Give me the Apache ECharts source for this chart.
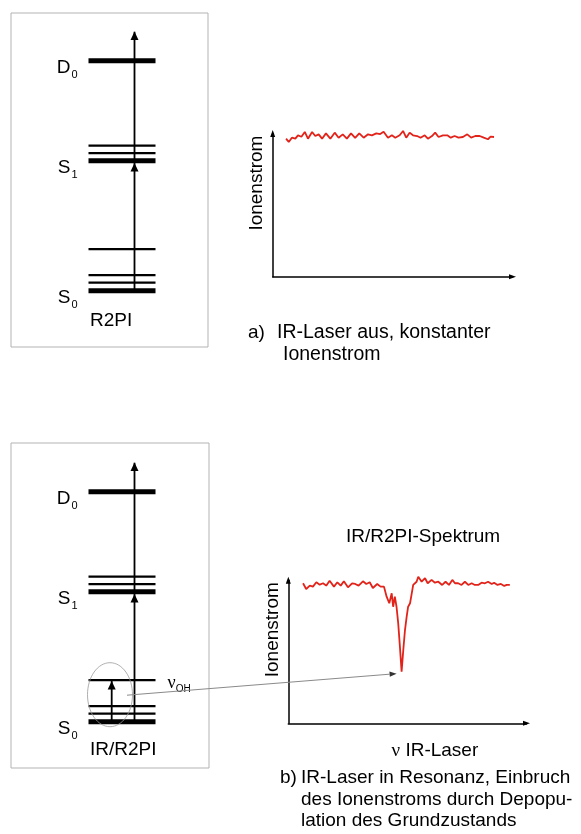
<!DOCTYPE html>
<html>
<head>
<meta charset="utf-8">
<script src="https://cdn.jsdelivr.net/npm/echarts@6/dist/echarts.min.js"></script>
<style>
  html, body { margin: 0; padding: 0; background: #fff; }
  #chart { width: 581px; height: 834px; }
</style>
</head>
<body>
<div id="chart"></div>
<script>
// Termschema (Energie relativ zu S0, v=0), gilt fuer beide Schemata
const s0Levels = [0, 8, 15.5, 41.5];   // letzter Wert = OH-Streckschwingung
const s1Levels = [130, 137.5, 145];
const d0Levels = [230];
const levelSpan = [77.5, 144.5];
const pumpX = 123.5;
const pumpTop = 259;
const irX = 100.7;
const irMark = [99, 27];   // Mittelpunkt der Ellipse um die IR-Anregung

// a) IR-Laser aus
const topX = [5.5, 6.6, 7.9, 9.3, 10.4, 11.8, 13.2, 14.5, 16.2, 17.5, 18.9, 20.3, 21.9, 23.7, 25.5, 27.1, 28.8, 30.5, 32.2, 33.9,
  35.6, 37.4, 39.2, 40.8, 42.6, 44.2, 45.6, 47.4, 49.0, 50.4, 52.2, 53.6, 54.9, 56.3, 57.7, 59.4, 60.8, 62.5, 63.8, 65.5,
  66.8, 68.2, 70.0, 71.8, 73.2, 74.8, 76.4, 78.2, 80.0, 81.6, 83.3, 85.1, 86.8, 88.5, 89.6, 91.0];
const topY = [98.8, 96.4, 99.5, 98.8, 101.2, 100.2, 103.6, 98.8, 103.6, 100.7, 101.9, 98.8, 102.6, 98.8, 103.1, 99.5, 101.9, 98.8, 102.6, 99.3,
  102.6, 99.5, 101.9, 101.2, 102.6, 102.1, 103.8, 99.5, 101.2, 99.5, 101.2, 104.3, 99.5, 103.1, 101.2, 100.7, 99.5, 101.2, 98.8, 100.7,
  103.1, 100.0, 101.2, 101.2, 99.5, 100.7, 99.5, 100.0, 101.9, 99.5, 100.7, 100.7, 99.5, 98.4, 100.2, 100.0];

// b) IR/R2PI-Spektrum
const botX = [6.1, 7.4, 8.9, 10.2, 11.6, 13.0, 14.4, 15.7, 17.1, 18.9, 20.3, 21.7, 23.0, 24.7, 26.4, 27.7, 29.1, 30.9, 32.3, 33.7,
  35.0, 36.8, 38.2, 39.6, 40.7, 41.8, 42.8, 43.4, 44.1, 44.8, 45.5, 46.2, 46.9, 47.6, 48.3, 49.0, 49.6, 50.4, 51.1, 51.7,
  53.1, 53.8, 55.2, 56.6, 57.7, 59.3, 60.7, 62.1, 63.7, 65.1, 66.5, 67.9, 69.0, 70.3, 71.7, 73.1, 74.5, 75.9, 77.2, 78.6,
  80.0, 81.4, 82.7, 84.2, 85.2, 86.6, 88.0, 89.4, 90.4, 91.7];
const botY = [100.3, 96.2, 98.6, 97.9, 101.0, 99.3, 100.3, 98.6, 102.1, 97.9, 101.0, 98.6, 101.7, 97.4, 100.3, 99.8, 98.6, 101.7, 99.8, 101.0,
  96.9, 99.8, 97.9, 97.9, 90.7, 86.0, 93.1, 83.5, 90.7, 83.5, 71.6, 54.9, 37.0, 52.5, 66.8, 76.4, 83.5, 86.0, 93.1, 99.1,
  101.4, 105.0, 101.4, 103.9, 100.3, 102.7, 100.7, 101.4, 99.1, 101.4, 99.1, 102.7, 100.3, 100.3, 99.1, 101.4, 99.1, 100.3, 99.1, 99.1,
  100.7, 100.3, 101.4, 99.8, 100.7, 99.1, 99.8, 98.4, 99.1, 99.1];

const FONT = '"Liberation Sans", Arial, sans-serif';
const SERIF = '"Liberation Serif", "Times New Roman", serif';

var chart = echarts.init(document.getElementById('chart'));

var series = [];
// beide Termschemata (grid 0 und 2)
[0, 2].forEach(function (g) {
  [s0Levels, s1Levels, d0Levels].forEach(function (group) {
    group.forEach(function (e, i) {
      series.push({
        type: 'line', xAxisIndex: g, yAxisIndex: g, silent: true, symbol: 'none',
        data: [[levelSpan[0], e], [levelSpan[1], e]],
        lineStyle: { color: '#000', width: i === 0 ? 5 : 2.2 }
      });
    });
  });
  // R2PI-Anregung: S0 -> S1 -> Ion
  series.push({
    type: 'line', xAxisIndex: g, yAxisIndex: g, silent: true, symbol: 'none',
    data: [[pumpX, s0Levels[0]], [pumpX, pumpTop]],
    lineStyle: { color: '#000', width: 1.8 }
  });
  var heads = [[pumpX, s1Levels[0] - 6.5], [pumpX, pumpTop - 4]];
  if (g === 2) {
    series.push({
      type: 'line', xAxisIndex: g, yAxisIndex: g, silent: true, symbol: 'none',
      data: [[irX, s0Levels[0]], [irX, s0Levels[3]]],
      lineStyle: { color: '#000', width: 1.8 }
    });
    heads.push([irX, s0Levels[3] - 5]);
  }
  series.push({
    type: 'scatter', xAxisIndex: g, yAxisIndex: g, silent: true,
    symbol: 'triangle', symbolSize: [8, 8.5],
    itemStyle: { color: '#000', opacity: 1 },
    data: heads
  });
  // Beschriftung der Zustaende
  var labels = [
    { value: [levelSpan[0], d0Levels[0]], lab: '{b|D}{s|0}' },
    { value: [levelSpan[0], s1Levels[0]], lab: '{b|S}{s|1}' },
    { value: [levelSpan[0], s0Levels[0]], lab: '{b|S}{s|0}' }
  ];
  series.push({
    type: 'scatter', xAxisIndex: g, yAxisIndex: g, silent: true, symbolSize: 0,
    itemStyle: { color: '#000', opacity: 1 },
    data: labels.map(function (d) {
      return {
        value: d.value,
        label: {
          show: true, position: 'left', distance: 11, offset: [0, 6], color: '#000', opacity: 1,
          formatter: d.lab,
          rich: {
            b: { fontSize: 19, color: '#000', fontFamily: FONT, lineHeight: 22, verticalAlign: 'bottom' },
            s: { fontSize: 11, color: '#000', fontFamily: FONT, lineHeight: 12, verticalAlign: 'bottom', padding: [0, 0, -3, 1] }
          }
        }
      };
    })
  });
  if (g === 2) {
    series.push({
      type: 'scatter', xAxisIndex: g, yAxisIndex: g, silent: true, symbolSize: 0,
      itemStyle: { color: '#000', opacity: 1 },
      data: [{
        value: [levelSpan[1], s0Levels[3]],
        label: {
          show: true, position: 'right', distance: 12, offset: [0, 4], color: '#000', opacity: 1,
          formatter: '{n|\u03bd}{s|OH}',
          rich: {
            n: { fontSize: 18, color: '#000', fontFamily: SERIF, lineHeight: 16, verticalAlign: 'bottom' },
            s: { fontSize: 10, color: '#000', fontFamily: FONT, lineHeight: 10, verticalAlign: 'bottom', padding: [0, 0, -2, 0] }
          }
        }
      }]
    });
  }
});

// Spektren
series.push({
  type: 'line', xAxisIndex: 1, yAxisIndex: 1, silent: true, symbol: 'none', clip: false,
  data: topX.map(function (x, i) { return [x, topY[i]]; }),
  lineStyle: { color: '#e2231a', width: 1.8 }
});
series.push({
  type: 'line', xAxisIndex: 3, yAxisIndex: 3, silent: true, symbol: 'none', clip: false,
  data: botX.map(function (x, i) { return [x, botY[i]]; }),
  lineStyle: { color: '#e2231a', width: 1.8 }
});

function diagAxis(g, min, max) {
  return { gridIndex: g, type: 'value', min: min, max: max, show: false };
}
function specAxis(g, max, extra) {
  return Object.assign({
    gridIndex: g, type: 'value', min: 0, max: max,
    axisLine: { show: true, onZero: false, symbol: ['none', 'triangle'], symbolSize: [5, 7],
      lineStyle: { color: '#000', width: 1.5 } },
    axisTick: { show: false }, axisLabel: { show: false }, splitLine: { show: false }
  }, extra || {});
}
var yName = {
  name: 'Ionenstrom', nameLocation: 'middle', nameRotate: 90, nameGap: 6,
  nameTextStyle: { fontSize: 19, color: '#000', fontFamily: FONT, padding: [0, 0, 0, 44] }
};

var txt = { fontSize: 19, color: '#000', fontFamily: FONT, fontWeight: 'normal', lineHeight: 22 };

var option = {
  animation: false,
  backgroundColor: '#fff',
  textStyle: { fontFamily: FONT },
  title: [
    { text: 'R2PI', left: 90, top: 310, padding: 0, textStyle: txt },
    { text: 'IR/R2PI', left: 90, top: 739, padding: 0, textStyle: txt },
    { text: 'a)', left: 248, top: 322, padding: 0, textStyle: txt },
    { text: 'IR-Laser aus, konstanter', left: 277, top: 322, padding: 0, textStyle: Object.assign({}, txt, { fontSize: 19.5 }) },
    { text: 'Ionenstrom', left: 283, top: 344, padding: 0, textStyle: Object.assign({}, txt, { fontSize: 19.5 }) },
    { text: 'IR/R2PI-Spektrum', left: 346, top: 526, padding: 0, textStyle: txt },
    { text: 'b)', left: 280, top: 767, padding: 0, textStyle: txt },
    { text: 'IR-Laser in Resonanz, Einbruch\ndes Ionenstroms durch Depopu-\nlation des Grundzustands',
      left: 301, top: 767, padding: 0, textStyle: Object.assign({}, txt, { lineHeight: 21.7 }) }
  ],
  grid: [
    { left: 11, top: 13, width: 197, height: 334, show: true, borderColor: '#b3b3b3', borderWidth: 1, backgroundColor: 'transparent' },
    { left: 272.7, top: 133.5, width: 239.8, height: 143.2 },
    { left: 11, top: 443, width: 198, height: 325, show: true, borderColor: '#b3b3b3', borderWidth: 1, backgroundColor: 'transparent' },
    { left: 288.3, top: 580.2, width: 238.2, height: 143.1 }
  ],
  xAxis: [
    diagAxis(0, 0, 197),
    specAxis(1, 98.6),
    diagAxis(2, 0, 198),
    specAxis(3, 98.6, {
      name: '{n|\u03bd} IR-Laser', nameLocation: 'middle', nameGap: 18,
      nameTextStyle: { fontSize: 19, color: '#000', fontFamily: FONT, padding: [0, 0, 0, 55],
        rich: { n: { fontSize: 19, fontFamily: SERIF, color: '#000' } } }
    })
  ],
  yAxis: [
    diagAxis(0, -56.3, 277.7),
    specAxis(1, 102.5, yName),
    diagAxis(2, -46.3, 278.7),
    specAxis(3, 102.5, yName)
  ],
  series: series
};
chart.setOption(option);

// Ellipse um die IR-Anregung und Verbindungspfeil zum Einbruch im Spektrum
var c = chart.convertToPixel({ gridIndex: 2 }, irMark);
var iMin = botY.indexOf(Math.min.apply(null, botY));
var dip = chart.convertToPixel({ gridIndex: 3 }, [botX[iMin], botY[iMin]]);
var start = [c[0] + 17, c[1] + 0.5];
var tip = [dip[0] - 5, dip[1] + 2];
var ang = Math.atan2(tip[1] - start[1], tip[0] - start[0]);
var hl = 7, hw = 2.6;
var back = [tip[0] - hl * Math.cos(ang), tip[1] - hl * Math.sin(ang)];
chart.setOption({
  graphic: [
    { type: 'ellipse', shape: { cx: c[0], cy: c[1], rx: 22.5, ry: 32 },
      style: { fill: 'none', stroke: '#9a9a9a', lineWidth: 0.8 }, silent: true, z: 100 },
    { type: 'line', shape: { x1: start[0], y1: start[1], x2: back[0], y2: back[1] },
      style: { stroke: '#8a8a8a', lineWidth: 1 }, silent: true, z: 100 },
    { type: 'polygon', shape: { points: [
        tip,
        [back[0] + hw * Math.sin(ang), back[1] - hw * Math.cos(ang)],
        [back[0] - hw * Math.sin(ang), back[1] + hw * Math.cos(ang)]
      ] }, style: { fill: '#333' }, silent: true, z: 100 }
  ]
});
</script>
</body>
</html>
